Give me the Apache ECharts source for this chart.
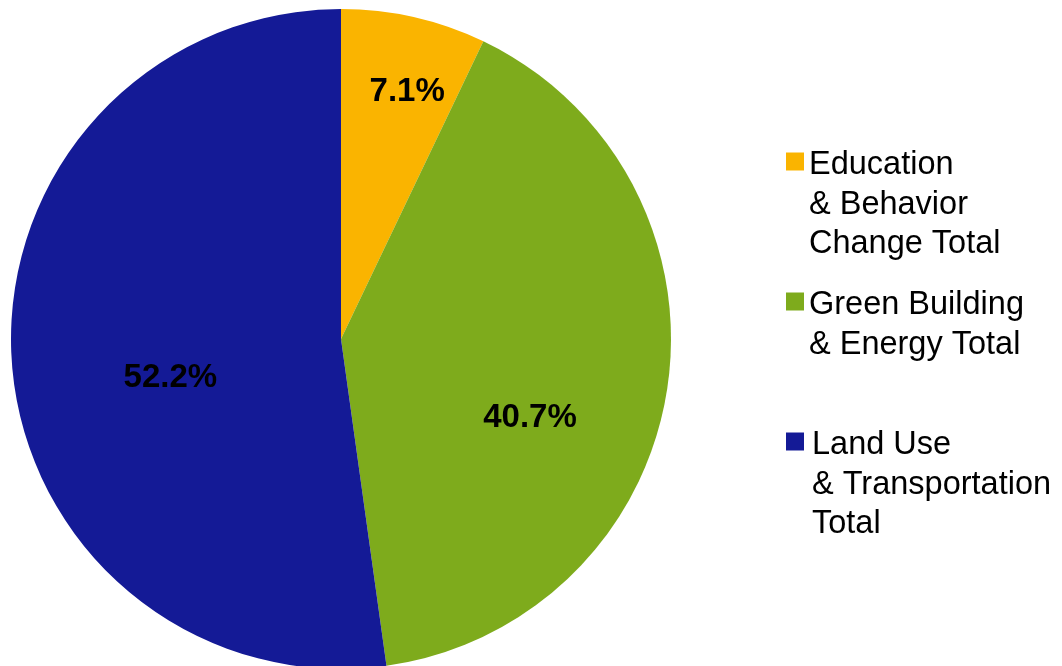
<!DOCTYPE html>
<html>
<head>
<meta charset="utf-8">
<script src="https://cdn.jsdelivr.net/npm/echarts@6/dist/echarts.min.js"></script>
<style>
html,body{margin:0;padding:0;background:#fff;}
#chart{width:1062px;height:666px;}
</style>
</head>
<body>
<div id="chart"></div>
<script>
// Data
const categories = [
  'Education\n& Behavior\nChange Total',
  'Green Building\n& Energy Total',
  'Land Use\n& Transportation\nTotal'
];
const values = [7.1, 40.7, 52.2];
const colors = ['#FAB400', '#7EAB1C', '#141A96'];

// Styling / layout config
const labelNudge = [[29, -83], [23, 53], [-3, 27]];
const legendIconCenters = [161.5, 301.5, 441.5];
const legendTextPadLeft = [0, 0, 3];
const LH = 39.5;
const TEXT_DROP = 4; // first text line sits slightly below icon centre

const chart = echarts.init(document.getElementById('chart'), null, {renderer: 'canvas'});

const pieData = categories.map((name, i) => ({
  name: name,
  value: values[i],
  itemStyle: {color: colors[i]}
}));

const legends = categories.map((name, i) => {
  const n = name.split('\n').length;
  const P = (n - 1) * LH + 2 * TEXT_DROP;
  const H = P + n * LH;
  return {
    data: [name],
    orient: 'vertical',
    left: 786,
    top: legendIconCenters[i] - H / 2,
    padding: 0,
    itemWidth: 18,
    itemHeight: 18,
    icon: 'rect',
    selectedMode: false,
    formatter: nm => '{p| }\n' + nm.split('\n').map(s => '{t|' + s + '}').join('\n'),
    textStyle: {
      fontFamily: 'Liberation Sans',
      fontSize: 32.5,
      color: '#000',
      padding: [0, 0, 0, legendTextPadLeft[i]],
      rich: {
        p: {lineHeight: P, height: P, fontSize: 10},
        t: {lineHeight: LH, height: LH, fontSize: 32.5, fontFamily: 'Liberation Sans', color: '#000'}
      }
    }
  };
});

chart.setOption({
  animation: false,
  backgroundColor: '#fff',
  legend: legends,
  series: [{
    type: 'pie',
    center: [341, 339],
    radius: [0, 330],
    startAngle: 90,
    clockwise: true,
    avoidLabelOverlap: false,
    itemStyle: {borderWidth: 0},
    emphasis: {disabled: true},
    label: {
      show: true,
      position: 'inside',
      fontFamily: 'Liberation Sans',
      fontWeight: 'bold',
      fontSize: 33,
      color: '#000',
      formatter: p => p.value.toFixed(1) + '%'
    },
    labelLayout: p => ({dx: labelNudge[p.dataIndex][0], dy: labelNudge[p.dataIndex][1]}),
    labelLine: {show: false},
    data: pieData
  }]
});
</script>
</body>
</html>
